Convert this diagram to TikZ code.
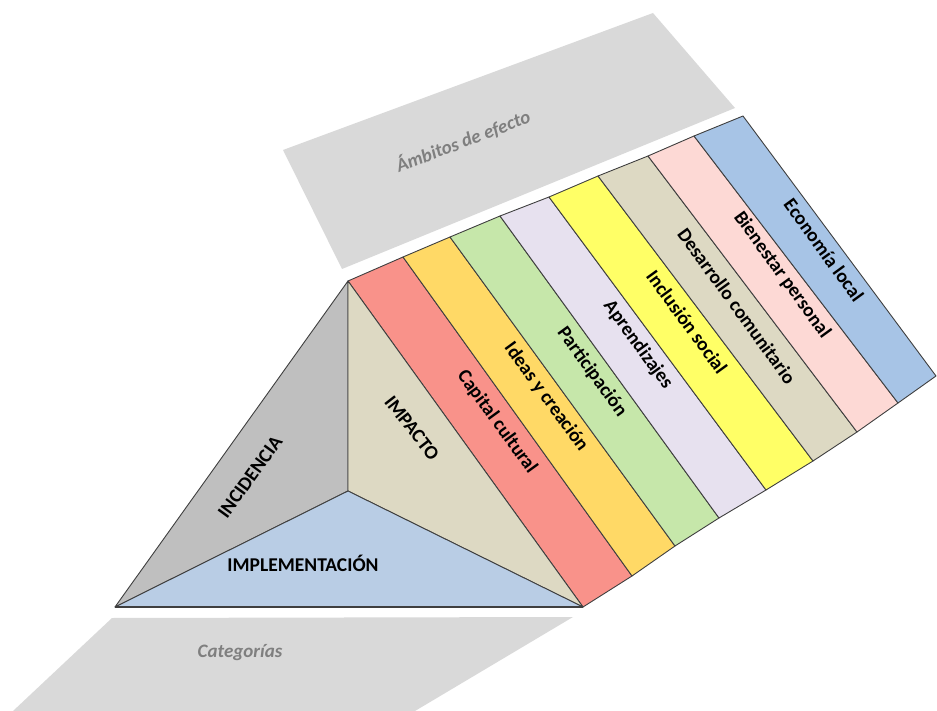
\documentclass[tikz,border=0pt]{standalone}
\usepackage{fontspec}
\setmainfont{Carlito}
\definecolor{panelC}{HTML}{D9D9D9}
\definecolor{grayT}{HTML}{7F7F7F}
\definecolor{lineC}{HTML}{3F3F3F}
\definecolor{incC}{HTML}{BFBFBF}
\definecolor{impC}{HTML}{DDD9C3}
\definecolor{implC}{HTML}{B9CDE5}
\definecolor{s0}{HTML}{F9928A}
\definecolor{s1}{HTML}{FFD966}
\definecolor{s2}{HTML}{C6E7AA}
\definecolor{s3}{HTML}{E7E1EF}
\definecolor{s4}{HTML}{FFFF66}
\definecolor{s5}{HTML}{DDD9C3}
\definecolor{s6}{HTML}{FDD9D5}
\definecolor{s7}{HTML}{A7C4E6}
\begin{document}
\begin{tikzpicture}[x=1pt,y=-1pt,
  edge/.style={draw=lineC, line width=0.9pt, line join=round},
  panel/.style={fill=panelC, draw=none},
  lbl/.style={font=\bfseries\fontsize{19.5}{19.5}\selectfont, text=black, inner sep=0pt},
  glbl/.style={font=\bfseries\itshape\fontsize{19}{19}\selectfont, text=grayT, inner sep=0pt}]
\useasboundingbox (0,0) rectangle (937,711);
% gray panels
\fill[panel] (283,150) -- (653,13) -- (735,108) -- (342,269) -- cycle;
\fill[panel] (112,618) -- (573,617) -- (415,711) -- (13,711) -- cycle;
\node[glbl, rotate=21] (ambitos) at (463,141) {Ámbitos de efecto};
\node[glbl] (categorias) at (240,653) {Categorías};
% stripe corners
\coordinate (T0) at (348,281); \coordinate (B0) at (583,607);
\coordinate (T1) at (403,257); \coordinate (B1) at (632,576);
\coordinate (T2) at (450,237); \coordinate (B2) at (675,546);
\coordinate (T3) at (500,216); \coordinate (B3) at (719,518);
\coordinate (T4) at (549,197); \coordinate (B4) at (766,490);
\coordinate (T5) at (598,176); \coordinate (B5) at (813,461);
\coordinate (T6) at (648,156); \coordinate (B6) at (857,432);
\coordinate (T7) at (694,136); \coordinate (B7) at (898,403);
\coordinate (T8) at (743,116); \coordinate (B8) at (936,376);
% stripes
\filldraw[edge, fill=s0] (T0) -- (T1) -- (B1) -- (B0) -- cycle;
\filldraw[edge, fill=s1] (T1) -- (T2) -- (B2) -- (B1) -- cycle;
\filldraw[edge, fill=s2] (T2) -- (T3) -- (B3) -- (B2) -- cycle;
\filldraw[edge, fill=s3] (T3) -- (T4) -- (B4) -- (B3) -- cycle;
\filldraw[edge, fill=s4] (T4) -- (T5) -- (B5) -- (B4) -- cycle;
\filldraw[edge, fill=s5] (T5) -- (T6) -- (B6) -- (B5) -- cycle;
\filldraw[edge, fill=s6] (T6) -- (T7) -- (B7) -- (B6) -- cycle;
\filldraw[edge, fill=s7] (T7) -- (T8) -- (B8) -- (B7) -- cycle;
% stripe labels
\node[lbl, rotate=-54] (l0) at (497,422) {Capital cultural};
\node[lbl, rotate=-54] (l1) at (546,397) {Ideas y creación};
\node[lbl, rotate=-54] (l2) at (592,372) {Participación};
\node[lbl, rotate=-54] (l3) at (638,345) {Aprendizajes};
\node[lbl, rotate=-54] (l4) at (687,322) {Inclusión social};
\node[lbl, rotate=-54] (l5) at (737,306) {Desarrollo comunitario};
\node[lbl, rotate=-54] (l6) at (782,275) {Bienestar personal};
\node[lbl, rotate=-54] (l7) at (824,250) {Economía local};
% pyramid
\coordinate (A) at (348,281);
\coordinate (C) at (348,491);
\coordinate (BL) at (115,607);
\coordinate (BR) at (583,607);
\filldraw[edge, fill=incC] (A) -- (C) -- (BL) -- cycle;
\filldraw[edge, fill=impC] (A) -- (BR) -- (C) -- cycle;
\filldraw[edge, fill=implC] (BL) -- (C) -- (BR) -- cycle;
\draw[draw=lineC, line width=1.6pt] (BL) -- (BR);
\node[lbl, rotate=54] (incidencia) at (250,477) {INCIDENCIA};
\node[lbl, rotate=-52] (impacto) at (412,428) {IMPACTO};
\node[lbl] (implementacion) at (303,563) {IMPLEMENTACIÓN};
\end{tikzpicture}
\end{document}
